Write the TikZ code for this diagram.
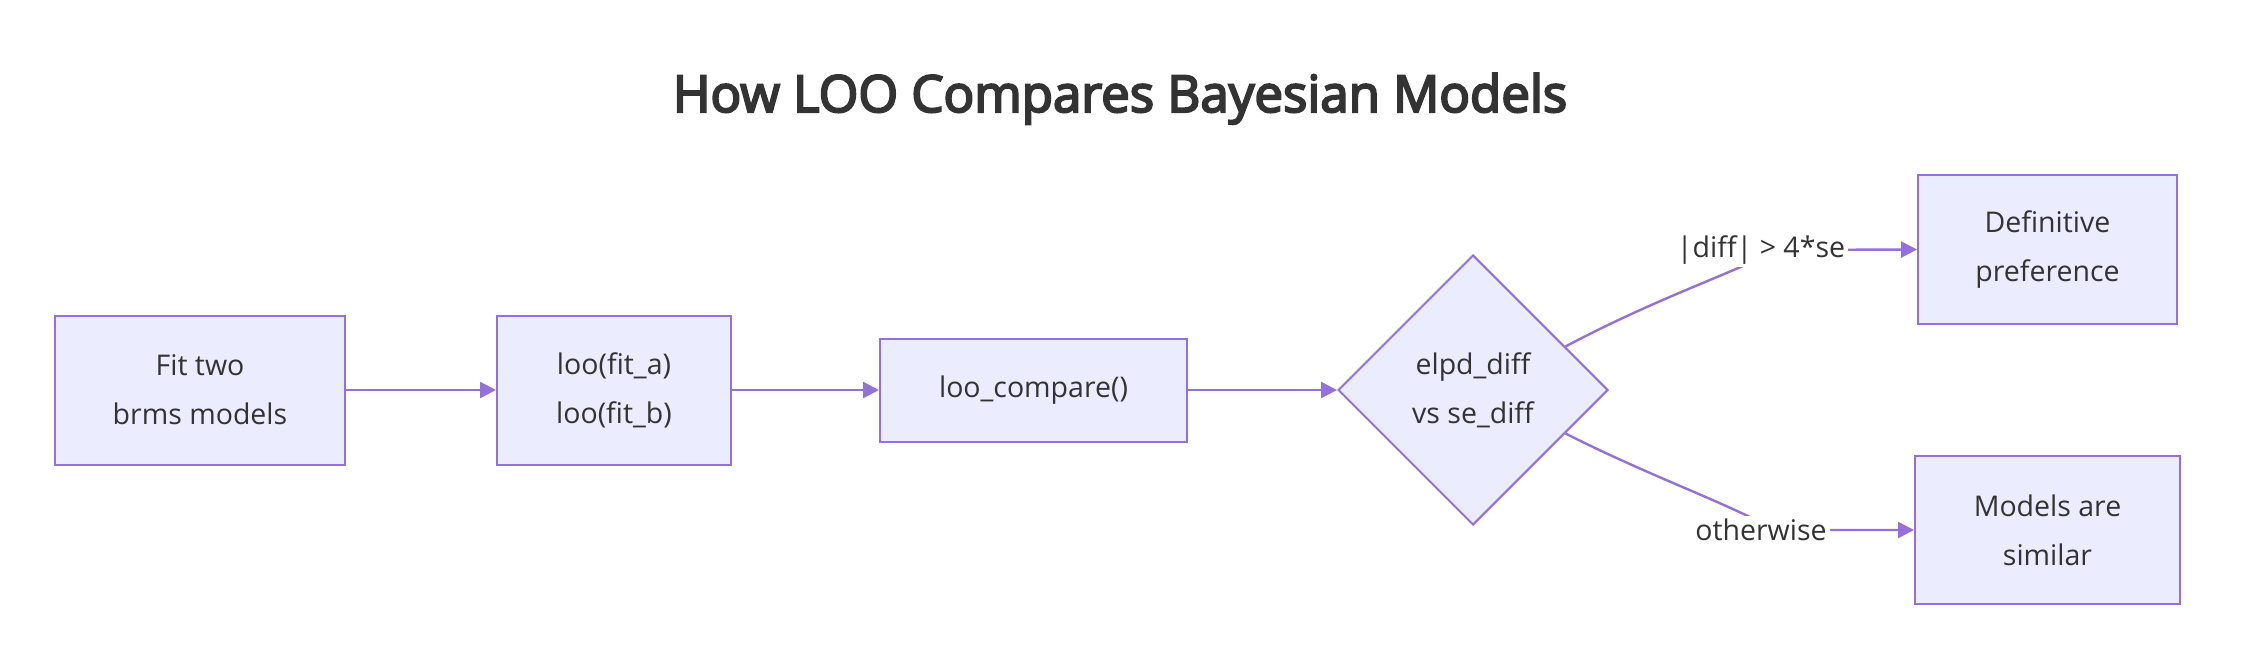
\documentclass[tikz,border=0pt]{standalone}
\usepackage{fontspec}
\setmainfont{Open Sans}
\newfontfamily\titlefont{Open Sans}[FakeBold=4]
\usetikzlibrary{shapes.geometric,arrows.meta,calc}
\definecolor{nodefill}{HTML}{ECECFF}
\definecolor{nodeline}{HTML}{9370DB}
\definecolor{txt}{HTML}{333333}
\tikzset{
  box/.style={draw=nodeline, fill=nodefill, line width=2pt, text=txt,
    font=\fontsize{28.5}{49}\selectfont, align=center, inner sep=0pt, rectangle},
  decision/.style={draw=nodeline, fill=nodefill, line width=2pt, text=txt,
    font=\fontsize{28.5}{49}\selectfont, align=center, inner sep=0pt, diamond,
    minimum width=270pt, minimum height=270pt},
  edge/.style={draw=nodeline, line width=2.4pt, -{Triangle[length=16pt,width=16pt]}},
  elabel/.style={fill=white, text=txt, font=\fontsize{28.5}{34}\selectfont, inner sep=3pt},
  titlestyle/.style={text=txt, font=\titlefont\fontsize{51}{60}\selectfont}
}
\begin{document}
\begin{tikzpicture}[x=1pt,y=-1pt]
\useasboundingbox[fill=white] (0,0) rectangle (2248,664);
\node[titlestyle, anchor=base] (title) at (1120,112) {How LOO Compares Bayesian Models};
\node[box, minimum width=290pt, minimum height=149pt] (A) at (200,390) {Fit two\\brms models};
\node[box, minimum width=234pt, minimum height=149pt] (B) at (614,390) {loo(fit\_a)\\loo(fit\_b)};
\node[box, minimum width=307pt, minimum height=103pt] (C) at (1033.5,390) {loo\_compare()};
\node[decision] (dia) at (1473,390) {elpd\_diff\\vs se\_diff};
\node[box, minimum width=259pt, minimum height=149pt] (D) at (2047.5,249.5) {Definitive\\preference};
\node[box, minimum width=265pt, minimum height=148pt] (E) at (2047.5,530) {Models are\\similar};
\draw[edge] (A.east) -- (B.west);
\draw[edge] (B.east) -- (C.west);
\draw[edge] (C.east) -- (dia.west);
\coordinate (l1pos) at (1761,250);
\coordinate (l2pos) at (1761,530);
\draw[edge] ($(dia.east)!0.32!(dia.north)$) .. controls (1640,307) and (1700,285) .. (1752,262) -- (l1pos) -- (D.west);
\draw[edge] ($(dia.east)!0.32!(dia.south)$) .. controls (1640,471) and (1700,493) .. (1752,518) -- (l2pos) -- (E.west);
\node[elabel] (l1) at (l1pos) {|diff| > 4*se};
\node[elabel] (l2) at (l2pos) {otherwise};
\end{tikzpicture}
\end{document}
